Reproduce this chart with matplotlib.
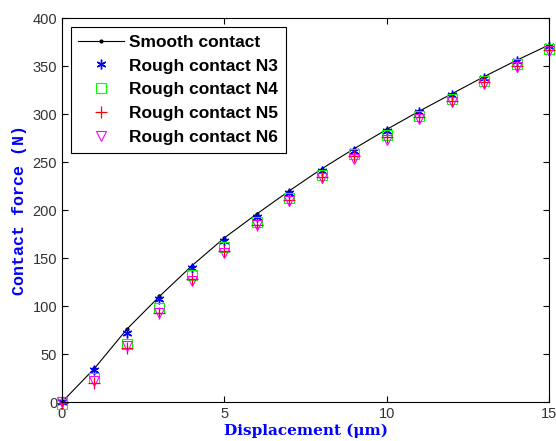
import numpy as np
import matplotlib
matplotlib.use('Agg')
import matplotlib.pyplot as plt

disp = [0, 1, 2, 3, 4, 5, 6, 7, 8, 9, 10, 11, 12, 13, 14, 15]
smooth = [0, 35, 76, 110, 142, 171, 196, 220, 243, 264, 284, 303, 321, 339, 356, 372]
n3 = [0, 33, 72, 107, 140, 168, 193, 218, 241, 262, 282, 302, 320, 338, 355, 371]
n4 = [-2, 25, 60, 98, 132, 162, 188, 213, 236, 258, 278, 298, 316, 334, 352, 368]
n5 = [-1, 20, 56, 93, 128, 157, 184, 210, 234, 256, 276, 297, 314, 333, 350, 367]
n6 = [0, 22, 58, 93, 126, 155, 184, 209, 233, 253, 273, 295, 313, 331, 349, 366]

plt.rcParams['font.family'] = ['Liberation Sans', 'DejaVu Sans']

fig = plt.figure(figsize=(5.56, 4.41), dpi=100)
ax = fig.add_axes([0.1115, 0.0884, 0.876, 0.8706])

ax.plot(disp, smooth, 'k.-', lw=0.8, ms=4, label='Smooth contact', clip_on=False)
ax.plot(disp, n3, marker=(6, 2, 0), color='blue', ms=7, mew=1.0, ls='none', label='Rough contact N3', clip_on=False)
ax.plot(disp, n4, 's', color='#00ff00', mfc='none', ms=7, mew=0.8, ls='none', label='Rough contact N4', clip_on=False)
ax.plot(disp, n5, '+', color='red', ms=8, mew=0.9, ls='none', label='Rough contact N5', clip_on=False)
ax.plot(disp, n6, 'v', color='magenta', mfc='none', ms=7, mew=0.8, ls='none', label='Rough contact N6', clip_on=False)

ax.set_xlim(0, 15)
ax.set_ylim(0, 400)
ax.set_xticks([0, 5, 10, 15])
ax.set_yticks(range(0, 401, 50))
ax.tick_params(direction='in', top=True, right=True, labelsize=10.5, labelcolor='#333333', length=4)

ax.set_xlabel('Displacement (\u03bcm)', color='blue', fontsize=11, fontweight='bold',
              family=['DejaVu Serif'], labelpad=2)
ax.set_ylabel('Contact force (N)', color='blue', fontsize=12, fontweight='bold',
              family=['Liberation Mono', 'DejaVu Sans Mono'], labelpad=4)

leg = ax.legend(loc='upper left', prop={'weight': 'bold', 'size': 12.5}, fancybox=False,
                edgecolor='black', framealpha=1, borderaxespad=0.5, handlelength=2.6,
                labelspacing=0.5, handletextpad=0.3, borderpad=0.45)
leg.get_frame().set_linewidth(0.8)

fig.savefig('out.png', dpi=100)
